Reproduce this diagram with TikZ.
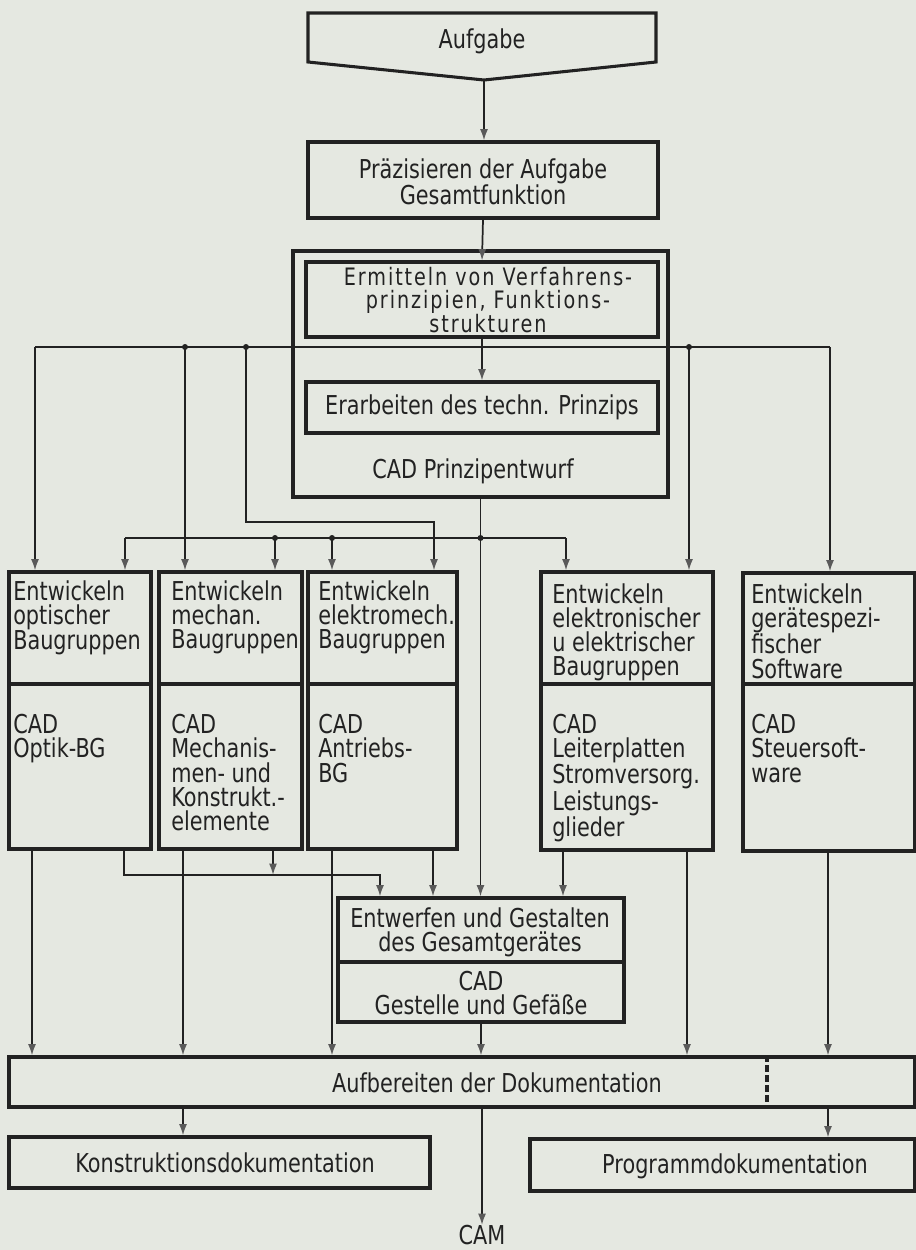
\documentclass[tikz,border=0pt]{standalone}
\usepackage{fontspec}
\setmainfont{DejaVu Sans}[FakeStretch=0.8]
\usetikzlibrary{arrows.meta,fit,calc}
\definecolor{paper}{HTML}{E5E8E1}
\definecolor{ink}{HTML}{222222}
\definecolor{tipgray}{HTML}{5A5A5A}
\begin{document}
\begin{tikzpicture}[x=0.75pt,y=-0.75pt,
  box/.style={draw=ink,line width=2.3pt,inner sep=0pt},
  divline/.style={draw=ink,line width=2.3pt},
  conn/.style={draw=ink,line width=1.3pt},
  arr/.style={conn,-{Latex[length=8.5pt,width=6pt,color=tipgray]}},
  txt/.style={font=\fontsize{19.5}{18.2}\selectfont,inner sep=0pt,text=ink},
  lbl/.style={txt,align=left,anchor=north west},
  clbl/.style={txt,align=center},
  jdot/.style={circle,fill=ink,inner sep=0pt,minimum size=4.5pt}
]
\fill[paper] (0,0) rectangle (916,1250);
\useasboundingbox (0,0) rectangle (916,1250);

% x positions of vertical lines
\foreach \n/\x in {32/32,124/124,183/183,273/273,332/332,433/433,482/482,563/563,687/687,767/767,828/828}
  \coordinate (x\n) at (\x,0);

% Aufgabe
\draw[box] (308,13) -- (656,13) -- (656,62) -- (484,80) -- (308,62) -- cycle;
\coordinate (aufapex) at (484,80);
\node[clbl] (aufgabe) at (482,41) {Aufgabe};

% Praezisieren
\node[box,fit={(308,142) (658,218)}] (praez) {};
\node[clbl] (praezT) at (483,182) {Präzisieren der Aufgabe\\Gesamtfunktion};
\draw[arr] (aufapex) -- (aufapex |- praez.north);

% Prinzipentwurf block
\node[box,fit={(293,251) (668,497)}] (prinz) {};
\node[box,fit={(306,262) (658,337)}] (ermit) {};
\node[clbl,font=\fontsize{18}{17.4}\selectfont\addfontfeatures{LetterSpace=8}] (ermitT) at (488,300) {Ermitteln von Verfahrens-\\prinzipien, Funktions-\\strukturen};
\node[box,fit={(306,382) (658,433)}] (erarb) {};
\node[clbl] (erarbT) at (erarb.center) {Erarbeiten des techn. Prinzips};
\node[clbl] (cadprinz) at (473,471) {CAD Prinzipentwurf};
\draw[arr] (praez.south) -- (ermit.north);
\draw[arr] (ermit.south) -- (erarb.north);

% row of development boxes
\node[box,fit={(9,572) (151,849)}] (opt) {};
\node[box,fit={(159,572) (302,849)}] (mech) {};
\node[box,fit={(308,572) (457,849)}] (emech) {};
\node[box,fit={(541,572) (713,850)}] (elek) {};
\node[box,fit={(743,573) (915,851)}] (soft) {};
\coordinate (dv) at (0,684);
\foreach \b in {opt,mech,emech,elek,soft}
  \draw[divline] (\b.west |- dv) -- (\b.east |- dv);

\node[lbl] (optT) at (13,580) {Entwickeln\\optischer\\Baugruppen};
\node[lbl] (optC) at (13,714) {CAD\\Optik-BG};
\node[lbl] (mechT) at (171,580) {Entwickeln\\mechan.\\Baugruppen};
\node[lbl] (mechC) at (171,714) {CAD\\Mechanis-\\men- und\\Konstrukt.-\\elemente};
\node[lbl] (emechT) at (318,580) {Entwickeln\\elektromech.\\Baugruppen};
\node[lbl] (emechC) at (318,714) {CAD\\Antriebs-\\BG};
\node[lbl] (elekT) at (552,583) {Entwickeln\\elektronischer\\u elektrischer\\Baugruppen};
\node[lbl] (elekC) at (552,714) {CAD\\Leiterplatten\\Stromversorg.\\Leistungs-\\glieder};
\node[lbl] (softT) at (751,583) {Entwickeln\\gerätespezi-\\fischer\\Software};
\node[lbl] (softC) at (751,714) {CAD\\Steuersoft-\\ware};

% distribution bus from Ermitteln level
\coordinate (busL) at (35,347);
\coordinate (b185) at (185,347);
\coordinate (b246) at (246,347);
\coordinate (b689) at (689,347);
\coordinate (busR) at (830,347);
\coordinate (c434) at (434,522);
\draw[conn] (busL) -- (busR);
\draw[arr] (busL) -- (busL |- opt.north);
\draw[arr] (b185) -- (b185 |- mech.north);
\draw[arr] (b246) |- (c434) -- (c434 |- emech.north);
\draw[arr] (b689) -- (b689 |- elek.north);
\draw[arr] (busR) -- (busR |- soft.north);
\node[jdot] at (b185) {};
\node[jdot] at (b246) {};
\node[jdot] at (b689) {};

% bus from CAD Prinzipentwurf
\coordinate (bus2L) at (125,538);
\coordinate (j275) at (275,538);
\coordinate (j332) at (332,538);
\coordinate (bus2R) at (566,538);
\draw[conn] (bus2L) -- (bus2R);
\draw[arr] (bus2L) -- (bus2L |- opt.north);
\draw[arr] (j275) -- (j275 |- mech.north);
\draw[arr] (j332) -- (j332 |- emech.north);
\draw[arr] (bus2R) -- (bus2R |- elek.north);
\node[jdot] at (j275) {};
\node[jdot] at (j332) {};
\node[jdot] at (prinz.south |- bus2L) {};

% Entwerfen
\node[box,fit={(338,898) (624,1022)}] (entw) {};
\coordinate (dv2) at (0,962);
\draw[divline] (entw.west |- dv2) -- (entw.east |- dv2);
\node[clbl] (entwT) at (480,932) {Entwerfen und Gestalten\\des Gesamtgerätes};
\node[clbl] (entwC) at (481,993) {CAD\\Gestelle und Gefäße};
\draw[arr] (prinz.south) -- (prinz.south |- entw.north);

% Aufbereiten
\node[box,fit={(9,1057) (915,1107)}] (aufb) {};
\node[clbl] (aufbT) at (497,1083) {Aufbereiten der Dokumentation};
\draw[ink,line width=2.3pt,dash pattern=on 5pt off 2.5pt] (aufb.north -| x767) -- (aufb.south -| x767);

% connectors below the row
\coordinate (m380) at (380,875);
\coordinate (m273) at (273,875);
\draw[arr] (opt.south -| x124) |- (m380) -- (m380 |- entw.north);
\draw[arr] (mech.south -| x273) -- (m273);
\draw[arr] (emech.south -| x433) -- (entw.north -| x433);
\draw[arr] (elek.south -| x563) -- (entw.north -| x563);
\draw[arr] (opt.south -| x32) -- (aufb.north -| x32);
\draw[arr] (mech.south -| x183) -- (aufb.north -| x183);
\draw[arr] (emech.south -| x332) -- (aufb.north -| x332);
\draw[arr] (elek.south -| x687) -- (aufb.north -| x687);
\draw[arr] (soft.south -| x828) -- (aufb.north -| x828);
\draw[arr] (entw.south) -- (entw.south |- aufb.north);

% documentation boxes
\node[box,fit={(9,1137) (430,1188)}] (konst) {};
\node[clbl] (konstT) at (225,1163) {Konstruktionsdokumentation};
\node[box,fit={(530,1139) (915,1191)}] (prog) {};
\node[clbl] (progT) at (735,1166) {Programmdokumentation};
\draw[arr] (aufb.south -| x183) -- (konst.north -| x183);
\draw[arr] (aufb.south -| x828) -- (prog.north -| x828);

% CAM
\node[txt,anchor=north] (cam) at (482,1225) {CAM};
\draw[arr] (aufb.south -| x482) -- (cam.north);
\end{tikzpicture}
\end{document}
